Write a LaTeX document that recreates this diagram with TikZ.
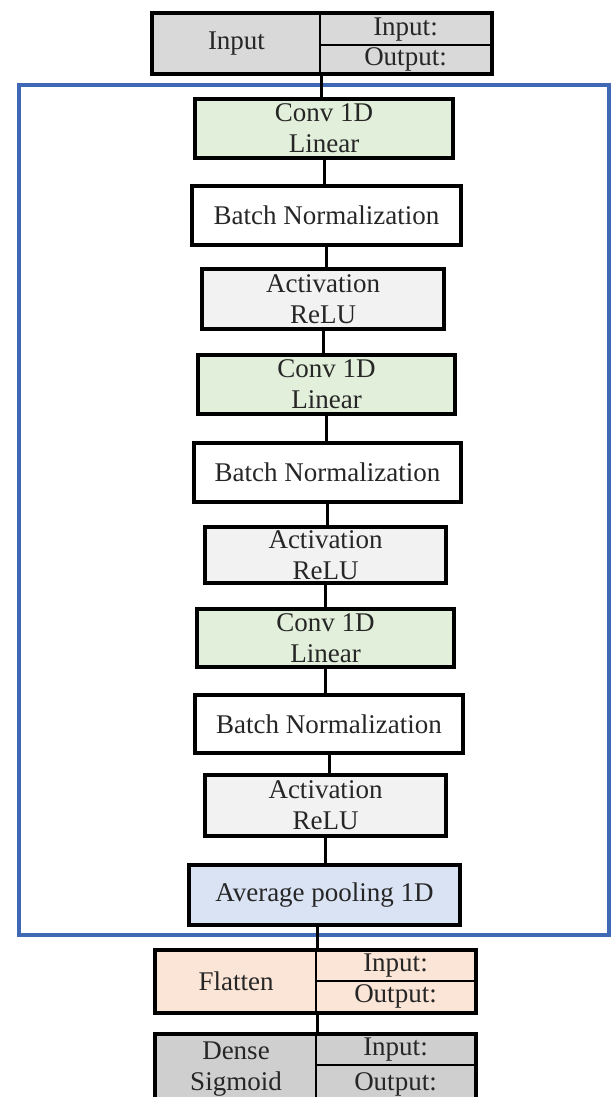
\documentclass[tikz,border=0pt]{standalone}
\usepackage{fontspec}
\setmainfont{Liberation Serif}
\usetikzlibrary{backgrounds}
\definecolor{convgreen}{HTML}{E2EFDA}
\definecolor{actgray}{HTML}{F2F2F2}
\definecolor{poolblue}{HTML}{DAE3F3}
\definecolor{flatpeach}{HTML}{FBE5D6}
\definecolor{tablegray}{HTML}{D9D9D9}
\definecolor{densegray}{HTML}{CFCFCF}
\definecolor{frameblue}{HTML}{3F68B5}
\tikzset{
  layer/.style={draw, line width=4pt, align=center, inner sep=0pt, text=black!85,
    font=\fontsize{27}{31}\selectfont},
  cell/.style={draw, line width=2pt, align=center, inner sep=0pt, text=black!85,
    font=\fontsize{27}{31}\selectfont},
  outer/.style={line width=4pt},
  link/.style={line width=3pt},
  frame/.style={draw=frameblue, line width=4pt}
}
\begin{document}
\begin{tikzpicture}[x=1pt,y=-1pt]
\useasboundingbox (0,0) rectangle (611,1097);
% input table
\node[cell, fill=tablegray, minimum width=167pt, minimum height=59pt] (inL) at (236.5,43.5) {Input};
\node[cell, fill=tablegray, minimum width=171pt, minimum height=31pt] (inI) at (405.5,29.5) {Input:};
\node[cell, fill=tablegray, minimum width=171pt, minimum height=28pt] (inO) at (405.5,59) {Output:};
\draw[outer] (inL.north west) rectangle (inO.south east);

% conv block
\node[layer, fill=convgreen, minimum width=258pt, minimum height=59pt] (conv1) at (324,128.5) {Conv 1D\\Linear};
\node[layer, fill=white, minimum width=269pt, minimum height=59pt] (bn1) at (326.5,215.5) {Batch Normalization};
\node[layer, fill=actgray, minimum width=242pt, minimum height=60pt] (act1) at (323,299) {Activation\\ReLU};
\node[layer, fill=convgreen, minimum width=257pt, minimum height=59pt] (conv2) at (326.5,384.5) {Conv 1D\\Linear};
\node[layer, fill=white, minimum width=267pt, minimum height=59pt] (bn2) at (327.5,472.5) {Batch Normalization};
\node[layer, fill=actgray, minimum width=241pt, minimum height=56pt] (act2) at (325.5,555) {Activation\\ReLU};
\node[layer, fill=convgreen, minimum width=257pt, minimum height=58pt] (conv3) at (325.5,638) {Conv 1D\\Linear};
\node[layer, fill=white, minimum width=268pt, minimum height=58pt] (bn3) at (329,724) {Batch Normalization};
\node[layer, fill=actgray, minimum width=241pt, minimum height=61pt] (act3) at (325.5,805.5) {Activation\\ReLU};
\node[layer, fill=poolblue, minimum width=271pt, minimum height=60pt] (pool) at (324.5,895) {Average pooling 1D};

% flatten table
\node[cell, fill=flatpeach, minimum width=160pt, minimum height=61pt] (flL) at (236,981.5) {Flatten};
\node[cell, fill=flatpeach, minimum width=159pt, minimum height=30pt] (flI) at (395.5,966) {Input:};
\node[cell, fill=flatpeach, minimum width=159pt, minimum height=31pt] (flO) at (395.5,996.5) {Output:};
\draw[outer] (flL.north west) rectangle (flO.south east);

% dense table
\node[cell, fill=densegray, minimum width=160pt, minimum height=68pt] (dnL) at (236,1069) {Dense\\Sigmoid};
\node[cell, fill=densegray, minimum width=159pt, minimum height=30pt] (dnI) at (395.5,1050) {Input:};
\node[cell, fill=densegray, minimum width=159pt, minimum height=38pt] (dnO) at (395.5,1084) {Output:};
\draw[outer] (dnL.north west) rectangle (dnO.south east);

\begin{scope}[on background layer]
\draw[frame] (19,85) rectangle (609,935);
\draw[link] (inL.south east) -- (inL.south east |- conv1.north);
\foreach \a/\b in {conv1/bn1, bn1/act1, act1/conv2, conv2/bn2, bn2/act2,
  act2/conv3, conv3/bn3, bn3/act3, act3/pool}
  \draw[link] (\a.south) -- (\a.south |- \b.north);
\draw[link] (flL.north east |- pool.south) -- (flL.north east);
\draw[link] (flL.south east) -- (dnL.north east);
\end{scope}
\end{tikzpicture}
\end{document}
